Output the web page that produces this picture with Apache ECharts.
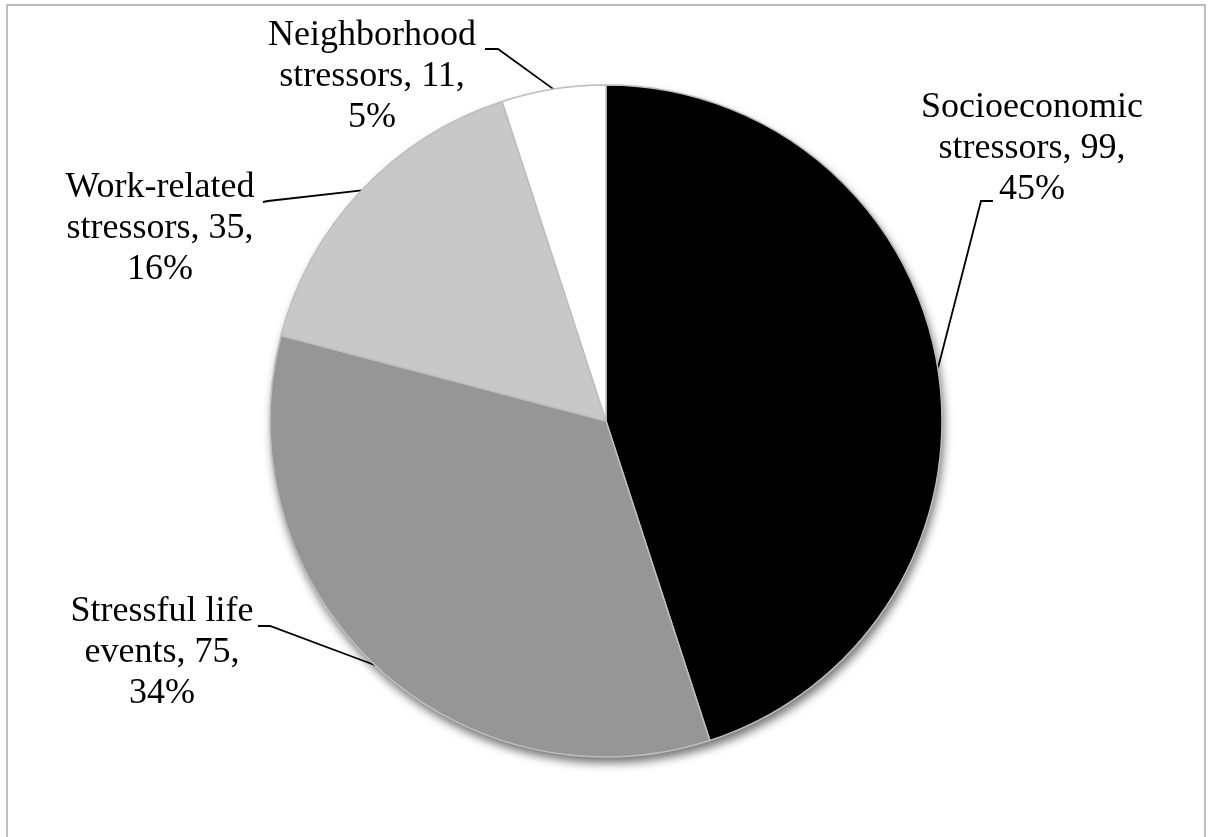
<!DOCTYPE html>
<html>
<head>
<meta charset="utf-8">
<script src="https://cdn.jsdelivr.net/npm/echarts@6/dist/echarts.min.js"></script>
<style>
  html, body { margin: 0; padding: 0; background: #fff; }
  #chart { width: 1209px; height: 837px; }
</style>
</head>
<body>
<div id="chart"></div>
<script>
// ---- data ----
const categories = ['Socioeconomic stressors', 'Stressful life events', 'Work-related stressors', 'Neighborhood stressors'];
const values = [99, 75, 35, 11];
const sliceColors = ['#000000', '#969696', '#c8c8c8', '#ffffff'];

// ---- label layout (label block centres and leader-line bends) ----
const labelPos = [
  { x: 1032, y: 149, turn: [981, 201], end: [993, 201] },
  { x: 162, y: 653, turn: [270, 626], end: [258, 626] },
  { x: 160, y: 229, turn: [268, 201], end: [263, 202] },
  { x: 372, y: 77, turn: [498, 49], end: [485, 49] }
];

const CX = 606, CY = 421, R = 336;

const chart = echarts.init(document.getElementById('chart'), null, { renderer: 'canvas' });

const data = categories.map((name, i) => ({
  name: name,
  value: values[i],
  itemStyle: { color: sliceColors[i] }
}));

chart.setOption({
  backgroundColor: '#ffffff',
  animation: false,
  graphic: [{
    type: 'rect',
    shape: { x: 7, y: 5, width: 1198, height: 900 },
    style: { fill: 'none', stroke: '#bdbdbd', lineWidth: 2 },
    silent: true,
    z: 0
  }],
  series: [
    {
      // shadow base under the pie
      type: 'pie',
      silent: true,
      center: [CX, CY],
      radius: R,
      startAngle: 90,
      label: { show: false },
      labelLine: { show: false },
      itemStyle: {
        color: '#ffffff',
        shadowBlur: 10,
        shadowOffsetX: 2,
        shadowOffsetY: 6,
        shadowColor: 'rgba(0,0,0,0.55)'
      },
      data: [{ name: 'base', value: values.reduce((a, b) => a + b, 0) }],
      z: 1
    },
    {
      type: 'pie',
      center: [CX, CY],
      radius: R,
      startAngle: 90,
      clockwise: true,
      avoidLabelOverlap: false,
      percentPrecision: 0,
      itemStyle: { borderColor: '#bdbdbd', borderWidth: 1.5 },
      label: {
        show: true,
        position: 'outside',
        fontFamily: 'Liberation Serif',
        fontSize: 36,
        lineHeight: 41,
        color: '#000',
        align: 'center',
        formatter: function (p) {
          const k = p.name.lastIndexOf(' ');
          return p.name.slice(0, k) + '\n' + p.name.slice(k + 1) + ', ' + p.value + ',\n' + p.percent + '%';
        }
      },
      labelLine: {
        show: true,
        length: 20,
        length2: 10,
        lineStyle: { color: '#000', width: 1.8 }
      },
      labelLayout: function (params) {
        const lp = labelPos[params.dataIndex];
        const start = params.labelLinePoints ? params.labelLinePoints[0] : lp.turn;
        return {
          x: lp.x,
          y: lp.y,
          align: 'center',
          verticalAlign: 'middle',
          moveOverlap: false,
          labelLinePoints: [start, lp.turn, lp.end]
        };
      },
      emphasis: { disabled: true },
      data: data,
      z: 2
    }
  ]
});
</script>
</body>
</html>
